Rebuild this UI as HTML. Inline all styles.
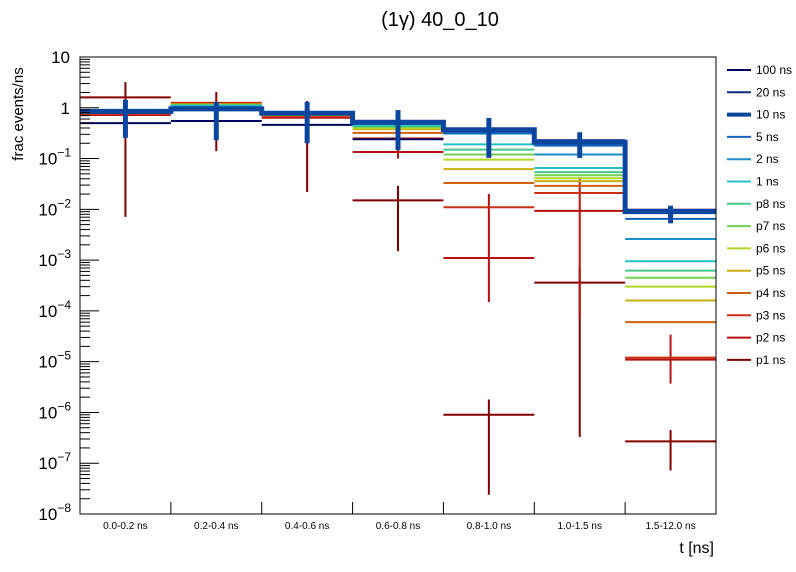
<!DOCTYPE html>
<html><head><meta charset="utf-8">
<style>
html,body{margin:0;padding:0;background:#fff;}
svg{display:block;font-family:"Liberation Sans",sans-serif;}
</style></head>
<body>
<svg id="chart" width="796" height="572" viewBox="0 0 796 572">
<rect width="796" height="572" fill="#fff"/>
<text x="440" y="26" font-size="20" text-anchor="middle">(1γ) 40_0_10</text>
<text transform="translate(23,114) rotate(-90)" font-size="15" text-anchor="middle">frac events/ns</text>
<text x="714" y="553" font-size="16" text-anchor="end">t [ns]</text>
<g id="marks"></g>
<g id="axes"></g>
<g id="legend"></g>
</svg>
<script>
const categories = ["0.0-0.2 ns","0.2-0.4 ns","0.4-0.6 ns","0.6-0.8 ns","0.8-1.0 ns","1.0-1.5 ns","1.5-12.0 ns"];
const seriesNames = ["100 ns","20 ns","10 ns","5 ns","2 ns","1 ns","p8 ns","p7 ns","p6 ns","p5 ns","p4 ns","p3 ns","p2 ns","p1 ns"];
const seriesColors = ["#000060","#0a2a80","#0a46a0","#1262c0","#1a90c8","#22c0c8","#40c88a","#70d050","#b0d820","#c8b010","#d06010","#c83010","#b81010","#800000"];
const v100 = [0.5,0.55,0.46,0.24,0.37,0.23,0.0098];
const v20  = [0.82,1.0,0.76,0.52,0.38,0.22,0.0095];
const v10  = [0.85,0.95,0.78,0.52,0.37,0.21,0.009];
const v5   = [0.85,1.0,0.78,0.5,0.32,0.18,0.0065];
const v2   = [0.88,1.05,0.8,0.48,0.31,0.12,0.0026];
const v1   = [0.9,1.1,0.8,0.46,0.19,0.065,0.00095];
const vp8  = [0.9,1.1,0.78,0.44,0.15,0.054,0.00062];
const vp7  = [0.88,1.12,0.77,0.42,0.12,0.047,0.00045];
const vp6  = [0.87,1.15,0.75,0.40,0.095,0.041,0.0003];
const vp5  = [0.85,1.15,0.72,0.38,0.062,0.036,0.00016];
const vp4  = [0.8,1.2,0.7,0.32,0.033,0.029,0.00006];
const vp3  = [0.75,1.2,0.68,0.25,0.011,0.021,0.000012];
const vp2  = [0.72,1.25,0.64,0.135,0.0011,0.0093,0.000011];
const vp1  = [1.6,0.95,0.64,0.015,9e-7,0.00036,2.7e-7];
const err10Lo = [0.255,0.23,0.2,0.147,0.103,0.103,0.0053];
const err10Hi = [1.43,1.3,1.3,0.9,0.63,0.33,0.0118];
const errp1Lo = [0.0071,0.14,0.022,0.0015,2.4e-8,3.3e-7,7.2e-8];
const errp1Hi = [3.2,2.05,1.36,0.029,1.8e-6,7.4e-4,4.5e-7];
const errp2Lo = [0.6,1.0,0.5,0.1,1.5e-4,7.4e-5,3.7e-6];
const errp2Hi = [0.9,1.5,0.8,0.18,0.02,0.043,3.4e-5];
const yTickExp = [1,0,-1,-2,-3,-4,-5,-6,-7,-8];

const allVals = [v100,v20,v10,v5,v2,v1,vp8,vp7,vp6,vp5,vp4,vp3,vp2,vp1];
const NS="http://www.w3.org/2000/svg";
const X0=80, X1=716, Y0=57, Y1=514, DEC=(Y1-Y0)/9;
const nb=categories.length, bw=(X1-X0)/nb;
function xs(i){return X0+i*bw;}
function ys(v){return Y0+(1-Math.log10(v))*DEC;}
function mk(tag,attrs,parent){const e=document.createElementNS(NS,tag);for(const k in attrs)e.setAttribute(k,attrs[k]);parent.appendChild(e);return e;}
const marks=document.getElementById('marks'), axes=document.getElementById('axes'), legend=document.getElementById('legend');

const order=[13,12,11,10,9,8,7,6,5,4,3,1,0,2];
order.forEach(s=>{
  const g=mk('g',{},marks);
  
  
  const vals=allVals[s], col=seriesColors[s];
  if(s===2){
    let d='';
    for(let i=0;i<nb;i++){const y=ys(vals[i]);d+=(i===0?'M':'L')+xs(i)+','+y+'L'+xs(i+1)+','+y;}
    const p=mk('path',{d:d,fill:'none',stroke:col,'stroke-width':5},g);
    
    
    for(let i=0;i<nb;i++){
      const cx=xs(i)+bw/2;
      const l=mk('line',{x1:cx,x2:cx,y1:ys(err10Hi[i]),y2:ys(err10Lo[i]),stroke:col,'stroke-width':5},g);
      
      
    }
    return;
  }
  for(let i=0;i<nb;i++){
    const y=ys(vals[i]);
    const l=mk('line',{x1:xs(i),x2:xs(i+1),y1:y,y2:y,stroke:col,'stroke-width':2},g);
    
    
    let lo=null,hi=null;
    if(s===13){lo=errp1Lo[i];hi=errp1Hi[i];}
    else if(s===12){lo=errp2Lo[i];hi=errp2Hi[i];}
    if(lo!==null){
      const cx=xs(i)+bw/2;
      const e=mk('line',{x1:cx,x2:cx,y1:ys(hi),y2:Math.min(ys(lo),Y1),stroke:col,'stroke-width':2},g);
      
      
    }
  }
});

const fr=mk('rect',{x:X0,y:Y0,width:X1-X0,height:Y1-Y0,fill:'none',stroke:'#000','stroke-width':1},axes);


yTickExp.forEach(e=>{
  const y=ys(Math.pow(10,e));
  const t=mk('line',{x1:X0,x2:X0+19,y1:y,y2:y,stroke:'#000','stroke-width':1},axes);
  
  
  const tx=mk('text',{x:70,y:y+6,'font-size':17,'text-anchor':'end'},axes);
  
  
  if(e===1) tx.textContent='10';
  else if(e===0) tx.textContent='1';
  else { tx.textContent='10'; const sp=mk('tspan',{dy:-8,'font-size':12},tx); sp.textContent='\u2212'+(-e); tx.setAttribute('x',71); }
  if(e>-8){
    for(let m=2;m<=9;m++){
      const ym=ys(m*Math.pow(10,e-1));
      const mt=mk('line',{x1:X0,x2:X0+10,y1:ym,y2:ym,stroke:'#000','stroke-width':1},axes);
      
      
    }
  }
});
for(let i=0;i<nb;i++){
  if(i>0){
    const t=mk('line',{x1:xs(i),x2:xs(i),y1:Y1,y2:Y1-12,stroke:'#000','stroke-width':1},axes);
    
    
  }
  const tx=mk('text',{x:xs(i)+bw/2,y:529,'font-size':10,'text-anchor':'middle'},axes);
  
  
  tx.textContent=categories[i];
}
seriesNames.forEach((n,i)=>{
  const y=70+i*22.3;
  const g=mk('g',{},legend);
  
  
  mk('line',{x1:727,x2:751,y1:y,y2:y,stroke:seriesColors[i],'stroke-width':i===2?4:2},g);
  const t=mk('text',{x:756,y:y+4,'font-size':12},g);
  t.textContent=n;
});
</script>
</body></html>
